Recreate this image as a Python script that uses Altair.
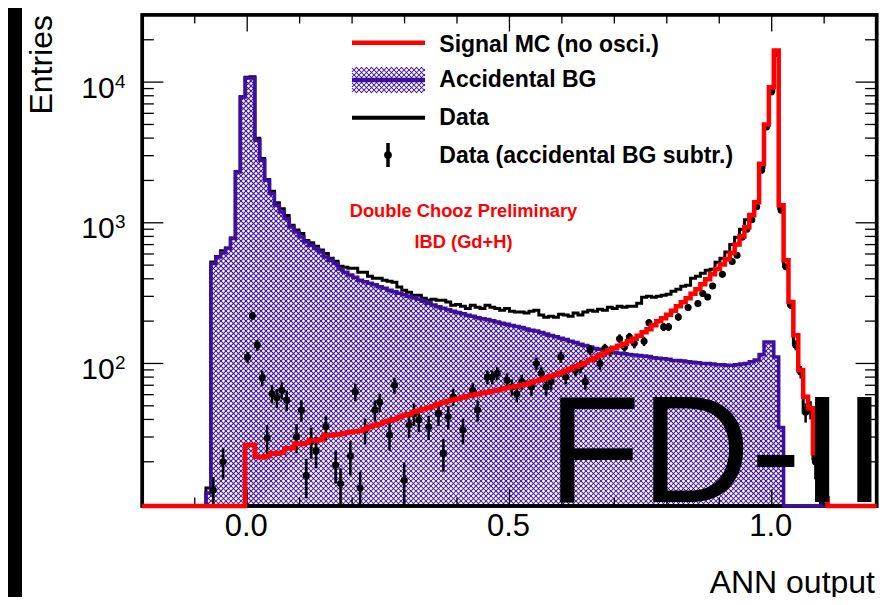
import math
import altair as alt
import pandas as pd

# ---------------- data ----------------
BIN_LO = -0.2
BIN_HI = 1.2
N_BINS = 150

# Accidental BG histogram (first non-empty bin index 13)
ACC_FIRST_BIN = 13
ACC_BG = [12, 513, 571, 612, 656, 772, 2300, 7830, 10700, 10700,
          3855, 2780, 2005, 1612, 1331, 1193, 1071, 934, 860, 793,
          731, 692, 656, 620, 571, 542, 513, 470, 445, 425,
          410, 391, 381, 372, 363, 351, 343, 332, 324, 316,
          308, 301, 293, 286, 277, 268, 260, 253, 247, 241,
          235, 230, 226, 220, 217, 211, 208, 205, 201, 197,
          193, 190, 186, 183, 180, 176, 172, 170, 166, 162,
          158, 155, 151, 148, 144, 141, 137, 134, 131, 128,
          126, 124, 122, 120, 118, 117, 116, 115, 114, 113,
          112, 110, 109, 108, 107, 105, 105, 104, 103, 102,
          101, 100, 100, 99, 98, 98, 97, 97, 98, 99,
          100, 103, 106, 116, 142, 142, 111, 35]

# Data histogram (first non-empty bin index 13)
DATA_FIRST_BIN = 13
DATA = [13, 526, 575, 632, 662, 780, 2320, 7880, 10810, 10920,
        3990, 2860, 2034, 1673, 1388, 1257, 1126, 960, 890, 840,
        747, 720, 680, 640, 606, 560, 532, 491, 483, 476,
        476, 445, 445, 417, 404, 404, 390, 384, 378, 349,
        332, 321, 306, 306, 291, 282, 286, 282, 282, 273,
        259, 263, 255, 246, 259, 251, 246, 259, 251, 246,
        239, 246, 235, 232, 232, 228, 235, 239, 221, 213,
        217, 213, 224, 221, 217, 228, 221, 232, 239, 235,
        243, 239, 251, 246, 255, 251, 255, 255, 268, 296,
        301, 296, 301, 306, 310, 326, 337, 354, 360, 404,
        417, 438, 460, 467, 524, 560, 620, 700, 790, 900,
        1050, 1150, 1400, 2480, 4950, 8650, 16100, 1270, 490, 260,
        137, 88, 45, 47, 21, 14, 10]

# Signal MC (no osci.) histogram (first non-empty bin index 21)
MC_FIRST_BIN = 21
SIGNAL_MC = [26.3, 26.3, 21.7, 21.5, 21.9, 23.0, 22.8, 23.2, 24.9, 25.0,
             27.0, 26.8, 27.2, 28.5, 28.3, 28.8, 31.0, 30.8, 31.2, 31.5,
             32.0, 32.5, 32.8, 33.1, 34.1, 35.3, 36.2, 37.1, 38.3, 39.2,
             40.2, 41.5, 42.6, 43.6, 45.1, 46.2, 47.4, 48.5, 49.7, 51.4,
             52.7, 54.0, 55.3, 56.2, 57.2, 58.6, 59.6, 60.5, 61.5, 62.5,
             63.6, 64.6, 65.7, 66.8, 67.9, 69.0, 70.2, 71.3, 73.1, 74.9,
             76.7, 78.7, 81.3, 83.3, 86.0, 88.9, 91.8, 94.9, 98.1, 101.3,
             105.5, 110.0, 114.5, 119.3, 124.3, 129.5, 133.8, 138.2, 144.0, 150.1,
             157.6, 166.9, 175.2, 187.1, 199.7, 209.8, 222.2, 237.1, 255.3, 272.6,
             290.9, 313.2, 337.1, 365.8, 396.9, 430.8, 470, 505, 550, 610,
             700, 800, 930, 1130, 1400, 2632, 5000, 9210, 16800, 1331,
             542, 274, 159, 90, 58, 48, 23, 15, 11]

# Data (accidental BG subtracted): bin index, value, error
SUB_BIN = [14, 16, 21, 22, 23, 24, 25, 26, 27, 28, 29, 31, 32, 33, 34, 35, 37, 39, 40,
           42, 43, 44, 45, 47, 48, 50, 51, 53, 54, 55, 56, 58, 60, 61, 62, 63, 65, 67,
           68, 70, 71, 72, 74, 75, 76, 77, 79, 80, 81, 82, 83, 85, 86, 88, 89, 90, 91,
           93, 94, 95, 97, 98, 99, 100, 102, 103, 106, 107, 109, 111, 113, 114, 115,
           116, 118, 120, 121, 122, 123, 124, 125, 126, 127, 128, 129, 130, 131, 132,
           133, 134, 135, 136, 137, 138]
SUB_VAL = [12.6, 20, 111, 218, 135, 79, 29.5, 61, 57, 64.5, 55, 30, 46.6, 16, 28, 24, 35.5, 19, 14,
           22, 63, 13, 33.6, 46.6, 53, 31, 70, 14.8, 36.5, 44, 39.6, 35.5, 44, 23, 42, 58, 33.6, 64.5,
           46.6, 80, 80, 85, 76, 68, 61, 74, 68, 100, 85, 68, 74, 111, 80, 90, 95, 74, 125,
           100, 128, 122, 150, 131, 154, 139, 144, 195, 182, 182, 214, 250, 267, 314, 297,
           355, 430, 530, 587, 790, 900, 1050, 1300, 2360, 4800, 8500, 16000, 1230, 486, 259,
           135, 87, 45, 47, 20, 14]
SUB_ERR = [3, 5, 10, 15, 12, 10, 7, 9, 9, 9, 9, 7, 8, 5, 7, 6, 7, 5, 4,
           6, 9, 4, 7, 8, 8, 7, 9, 5, 7, 8, 7, 7, 8, 6, 8, 8, 7, 8,
           8, 9, 9, 9, 9, 9, 8, 9, 9, 10, 9, 9, 9, 10, 9, 9, 10, 9, 10,
           10, 10, 10, 11, 10, 11, 11, 11, 12, 12, 12, 13, 14, 14, 15, 15,
           16, 17, 19, 20, 22, 24, 26, 28, 40, 60, 80, 110, 30, 20, 15,
           11, 9, 7, 7, 5, 4]

X_LABEL_VALUES = [0.0, 0.5, 1.0]
X_LABEL_TEXTS = ["0.0", "0.5", "1.0"]
X_MINOR_TICKS = [-0.1, 0.1, 0.2, 0.3, 0.4, 0.6, 0.7, 0.8, 0.9, 1.1]
Y_DECADES = [100, 1000, 10000]
Y_EXPONENTS = ["2", "3", "4"]
Y_MINOR_TICKS = [20, 30, 40, 50, 60, 70, 80, 90, 200, 300, 400, 500, 600, 700, 800, 900,
                 2000, 3000, 4000, 5000, 6000, 7000, 8000, 9000, 20000]

LEGEND_LABELS = ["Signal MC (no osci.)", "Accidental BG", "Data", "Data (accidental BG subtr.)"]

# ---------------- layout / style ----------------
W, H = 734.3, 491
PAD = {"left": 134.3, "top": 7, "right": 5, "bottom": 91}
XDOM = [-0.2, 1.2]
YDOM = [9.7, 30000]
PURPLE = "#3c0f9c"
FONT = "Liberation Sans"
HATCH_PERIOD = 5.0
HATCH_WIDTH = 1.05

bw = (BIN_HI - BIN_LO) / N_BINS
edges = [BIN_LO + i * bw for i in range(N_BINS + 1)]
L0, L1 = math.log10(YDOM[0]), math.log10(YDOM[1])


def full(first, vals):
    arr = [0.0] * N_BINS
    for i, v in enumerate(vals):
        arr[first + i] = v
    return arr


def step_df(arr):
    ys = [max(v, YDOM[0]) for v in arr] + [max(arr[-1], YDOM[0])]
    return pd.DataFrame({"x": edges, "y": ys, "top": [YDOM[1]] * len(edges)})


def xpix(v):
    return (v - XDOM[0]) / (XDOM[1] - XDOM[0]) * W


def ypix(v):
    return (L1 - math.log10(v)) / (L1 - L0) * H


def xinv(p):
    return XDOM[0] + p / W * (XDOM[1] - XDOM[0])


def yinv(p):
    return 10 ** (L1 - p / H * (L1 - L0))


def hatch_segments(xa, xb, yt, yb, period):
    """Diagonal cross-hatch segments clipped to a pixel rectangle (returned in data units)."""
    segs = []
    c = xa - yb
    while c <= xb - yt:
        lo, hi = max(xa, yt + c), min(xb, yb + c)
        if hi > lo:
            segs.append((lo, lo - c, hi, hi - c))
        c += period
    c = xa + yt
    while c <= xb + yb:
        lo, hi = max(xa, c - yb), min(xb, c - yt)
        if hi > lo:
            segs.append((lo, c - lo, hi, c - hi))
        c += period
    return pd.DataFrame({
        "x": [xinv(s[0]) for s in segs], "y": [yinv(s[1]) for s in segs],
        "x2": [xinv(s[2]) for s in segs], "y2": [yinv(s[3]) for s in segs],
    })


xs = alt.Scale(domain=XDOM, nice=False, zero=False)
ys = alt.Scale(type="log", domain=YDOM, nice=False, clamp=True)


def X(f="x"):
    return alt.X(f"{f}:Q", scale=xs, axis=None)


def Y(f="y"):
    return alt.Y(f"{f}:Q", scale=ys, axis=None)


acc_full = full(ACC_FIRST_BIN, ACC_BG)
data_full = full(DATA_FIRST_BIN, DATA)
mc_full = full(MC_FIRST_BIN, SIGNAL_MC)
acc_last = ACC_FIRST_BIN + len(ACC_BG)

layers = []
dummy = pd.DataFrame({"a": [0]})

# canvas border decoration (black band on the left)
layers.append(alt.Chart(dummy).mark_rect(color="black").encode(
    x=alt.value(-PAD["left"]), x2=alt.value(-PAD["left"] + 14),
    y=alt.value(-PAD["top"]), y2=alt.value(H + PAD["bottom"])))

# accidental BG: cross-hatch over its bounding box, then white mask above the histogram
hatch_df = hatch_segments(xpix(edges[ACC_FIRST_BIN]), xpix(edges[acc_last]),
                          ypix(max(ACC_BG)) - 2, H, HATCH_PERIOD)
layers.append(alt.Chart(hatch_df).mark_rule(color=PURPLE, strokeWidth=HATCH_WIDTH).encode(
    x=X(), y=Y(), x2="x2:Q", y2="y2:Q"))
layers.append(alt.Chart(step_df(acc_full)).mark_area(
    interpolate="step-after", color="white", opacity=1).encode(x=X(), y=Y(), y2="top:Q"))

# frame (under the histogram lines)
layers.append(alt.Chart(dummy).mark_rect(fillOpacity=0, stroke="black", strokeWidth=3.5).encode(
    x=alt.value(0), x2=alt.value(W), y=alt.value(0), y2=alt.value(H)))

# Data line
layers.append(alt.Chart(step_df(data_full)).mark_line(
    interpolate="step-after", color="black", strokeWidth=3).encode(x=X(), y=Y()))

# accidental outline
layers.append(alt.Chart(step_df(acc_full)).mark_line(
    interpolate="step-after", color=PURPLE, strokeWidth=3.5).encode(x=X(), y=Y()))

# frame ticks
tick_x = pd.DataFrame({"v": X_MINOR_TICKS})
tick_xM = pd.DataFrame({"v": X_LABEL_VALUES})
tick_y = pd.DataFrame({"v": Y_MINOR_TICKS})
tick_yM = pd.DataFrame({"v": Y_DECADES})
tk = dict(color="black", strokeWidth=1.3)
layers += [
    alt.Chart(tick_x).mark_rule(**tk).encode(x=X("v"), y=alt.value(0), y2=alt.value(8.5)),
    alt.Chart(tick_xM).mark_rule(**tk).encode(x=X("v"), y=alt.value(0), y2=alt.value(16.5)),
    alt.Chart(tick_x).mark_rule(**tk).encode(x=X("v"), y=alt.value(H), y2=alt.value(H - 8.5)),
    alt.Chart(tick_xM).mark_rule(**tk).encode(x=X("v"), y=alt.value(H), y2=alt.value(H - 16.5)),
    alt.Chart(tick_y).mark_rule(**tk).encode(y=Y("v"), x=alt.value(0), x2=alt.value(11.5)),
    alt.Chart(tick_yM).mark_rule(**tk).encode(y=Y("v"), x=alt.value(0), x2=alt.value(21)),
    alt.Chart(tick_y).mark_rule(**tk).encode(y=Y("v"), x=alt.value(W), x2=alt.value(W - 11.5)),
    alt.Chart(tick_yM).mark_rule(**tk).encode(y=Y("v"), x=alt.value(W), x2=alt.value(W - 21)),
]

# subtracted data points with error bars
sub_df = pd.DataFrame({
    "x": [BIN_LO + (k + 0.5) * bw for k in SUB_BIN],
    "y": SUB_VAL,
    "lo": [max(v - e, 1e-3) for v, e in zip(SUB_VAL, SUB_ERR)],
    "hi": [v + e for v, e in zip(SUB_VAL, SUB_ERR)],
})
layers.append(alt.Chart(sub_df).mark_rule(color="black", strokeWidth=2.5).encode(
    x=X(), y=Y("lo"), y2="hi:Q"))
layers.append(alt.Chart(sub_df).mark_point(
    filled=True, shape="circle", size=50, color="black", opacity=1).encode(x=X(), y=Y()))

# signal MC line (on top)
layers.append(alt.Chart(step_df(mc_full)).mark_line(
    interpolate="step-after", color="#ff0000", strokeWidth=4.5).encode(x=X(), y=Y()))

# axis labels
xl_df = pd.DataFrame({"v": X_LABEL_VALUES, "t": X_LABEL_TEXTS})
layers.append(alt.Chart(xl_df).mark_text(
    font=FONT, fontSize=31, baseline="alphabetic", align="center", dx=-1, color="black").encode(
    x=X("v"), y=alt.value(521.5), text="t:N"))
yl_df = pd.DataFrame({"v": Y_DECADES, "e": Y_EXPONENTS, "b": ["10"] * len(Y_DECADES)})
layers.append(alt.Chart(yl_df).mark_text(
    font=FONT, fontSize=30, baseline="alphabetic", align="right", dy=15.6, color="black").encode(
    y=Y("v"), x=alt.value(-27.6), text="b:N"))
layers.append(alt.Chart(yl_df).mark_text(
    font=FONT, fontSize=19, baseline="alphabetic", align="left", dy=5.6, color="black").encode(
    y=Y("v"), x=alt.value(-27.4), text="e:N"))

# axis titles
layers.append(alt.Chart(dummy).mark_text(
    text="Entries", font=FONT, fontSize=32, angle=270, align="right", baseline="alphabetic",
    color="black").encode(x=alt.value(-90.6), y=alt.value(0)))
layers.append(alt.Chart(dummy).mark_text(
    text="ANN output", font=FONT, fontSize=32, align="right", baseline="alphabetic",
    color="black").encode(x=alt.value(732.7), y=alt.value(578)))

# legend
lx0, lx1 = 209.7, 282.7
ly0, ly1 = 52.0, 78.0
layers.append(alt.Chart(dummy).mark_rule(color="#ff0000", strokeWidth=4.5).encode(
    x=alt.value(lx0), x2=alt.value(lx1), y=alt.value(27.7)))
leg_hatch = hatch_segments(lx0, lx1, ly0, ly1, HATCH_PERIOD)
layers.append(alt.Chart(leg_hatch).mark_rule(color=PURPLE, strokeWidth=HATCH_WIDTH).encode(
    x=X(), y=Y(), x2="x2:Q", y2="y2:Q"))
layers.append(alt.Chart(dummy).mark_rule(color=PURPLE, strokeWidth=4.5).encode(
    x=alt.value(lx0), x2=alt.value(lx1), y=alt.value(65)))
layers.append(alt.Chart(dummy).mark_rule(color="black", strokeWidth=4).encode(
    x=alt.value(lx0), x2=alt.value(lx1), y=alt.value(102.7)))
layers.append(alt.Chart(dummy).mark_rule(color="black", strokeWidth=3.5).encode(
    x=alt.value(245.7), y=alt.value(128), y2=alt.value(152)))
layers.append(alt.Chart(dummy).mark_point(filled=True, shape="circle", size=60, color="black",
                                          opacity=1).encode(x=alt.value(245.7), y=alt.value(140)))
for lab, yb in zip(LEGEND_LABELS, [36.7, 72.2, 110.0, 147.7]):
    layers.append(alt.Chart(dummy).mark_text(
        text=lab, font=FONT, fontSize=23, fontWeight="bold", align="left", baseline="alphabetic",
        color="black").encode(x=alt.value(297), y=alt.value(yb)))

# annotations
layers.append(alt.Chart(dummy).mark_text(
    text="Double Chooz Preliminary", font=FONT, fontSize=18.3, fontWeight="bold", align="center",
    baseline="alphabetic", color="#ff0000").encode(x=alt.value(321.2), y=alt.value(201.7)))
layers.append(alt.Chart(dummy).mark_text(
    text="IBD (Gd+H)", font=FONT, fontSize=18.3, fontWeight="bold", align="center",
    baseline="alphabetic", color="#ff0000").encode(x=alt.value(321.2), y=alt.value(233.3)))
layers.append(alt.Chart(dummy).mark_text(
    text="FD-II", font=FONT, fontSize=152, align="left",
    baseline="alphabetic", color="black").encode(x=alt.value(405.5), y=alt.value(486.7)))

chart = alt.layer(*layers).properties(
    width=W, height=H, padding=PAD,
    autosize=alt.AutoSizeParams(type="none"),
    background="white",
).configure_view(stroke="black", strokeWidth=3.5)

chart.save("out.html", embed_options={"renderer": "svg", "actions": False})
